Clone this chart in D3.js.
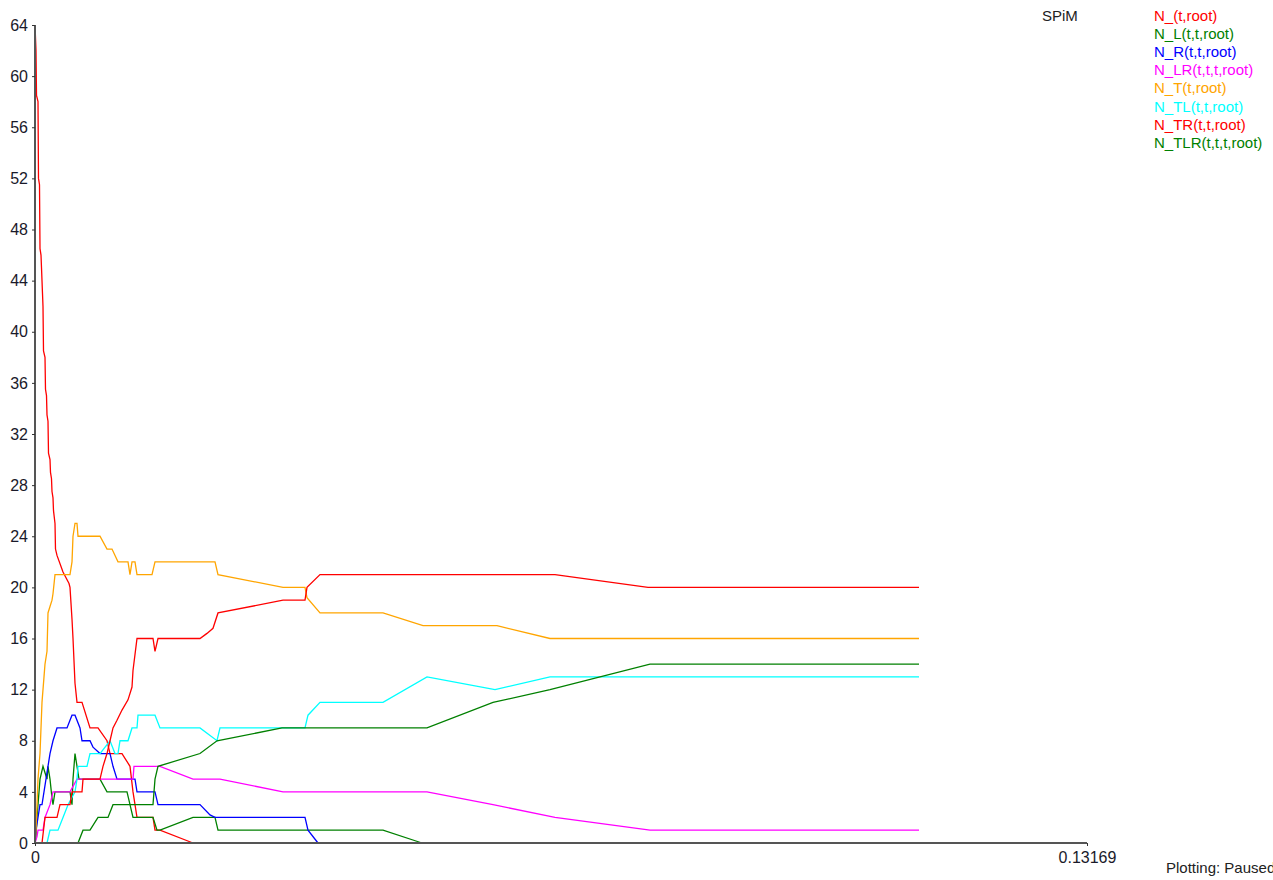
<!DOCTYPE html>
<html><head><meta charset="utf-8">
<script src="https://cdn.jsdelivr.net/npm/d3@7"></script>
<style>
html,body{margin:0;padding:0;background:#fff;overflow:hidden;}
svg{display:block;font-family:"Liberation Sans",Arial,sans-serif;}
</style></head>
<body>
<svg id="chart" width="1273" height="880"></svg>
<script>
// ---- data ----
const xMax = 0.13169;
const yTicks = [0,4,8,12,16,20,24,28,32,36,40,44,48,52,56,60,64];
const xTickLabels = ["0", "0.13169"];
const seriesNames = ["N_(t,root)","N_L(t,t,root)","N_R(t,t,root)","N_LR(t,t,t,root)","N_T(t,root)","N_TL(t,t,root)","N_TR(t,t,root)","N_TLR(t,t,t,root)"];
const seriesColors = ["#ff0000","#008000","#0000ff","#ff00ff","#ffa500","#00ffff","#ff0000","#008000"];

const nRoot = [[0,64],[0.000125,62],[0.000188,58.5],[0.000376,58],[0.000438,52],[0.000563,51.5],[0.000626,46.5],[0.000751,46],[0.000814,45],[0.000939,43],[0.001001,42],[0.001064,38.5],[0.001252,38],[0.001314,35.5],[0.001440,35],[0.001502,33.5],[0.001627,33],[0.001690,30.5],[0.001878,30],[0.001940,29],[0.002065,28.5],[0.002128,27.5],[0.002253,27],[0.002316,26],[0.002504,25],[0.002566,23],[0.002754,22.5],[0.003505,21.2],[0.004256,20.3],[0.004381,20],[0.004632,17.5],[0.004757,16],[0.005007,12.5],[0.005258,11],[0.005884,11],[0.006885,9],[0.007886,9],[0.009013,8],[0.009389,7],[0.010891,7],[0.011892,6],[0.012268,4],[0.012768,2],[0.014771,2],[0.015022,1],[0.015648,1],[0.019779,0]];
const nL = [[0,0],[0.000125,0.5],[0.000250,2],[0.000376,3],[0.000626,5],[0.001001,6],[0.001252,5.5],[0.001502,5],[0.001627,6],[0.001878,5],[0.002128,3.5],[0.002253,3],[0.002504,4],[0.004381,4],[0.004632,3],[0.004757,5],[0.005007,7],[0.005258,6],[0.005508,5],[0.008137,5],[0.009013,4],[0.011517,4],[0.012268,2],[0.014771,2],[0.015272,1],[0.015648,1],[0.019779,2],[0.022533,2],[0.022908,1],[0.043563,1],[0.048445,0]];
const nR = [[0,0],[0.000125,1],[0.000376,2],[0.000626,3],[0.000876,3],[0.001502,5.5],[0.001878,7],[0.002253,8],[0.002754,9],[0.004006,9],[0.004381,9.6],[0.004632,10],[0.005007,10],[0.005633,9],[0.005884,8],[0.006885,8],[0.007260,7.5],[0.008137,7],[0.009389,7],[0.009764,6],[0.010265,5],[0.012518,5],[0.012768,4],[0.015022,4],[0.015397,3],[0.020655,3],[0.021907,2.2],[0.022533,2],[0.033799,2],[0.034174,1],[0.035426,0]];
const nLR = [[0,0],[0.000250,0.5],[0.000376,1],[0.001001,1],[0.001252,2],[0.001878,3],[0.002253,4],[0.004381,4],[0.005258,5],[0.012268,5],[0.012393,6],[0.015648,6],[0.019779,5],[0.023158,5],[0.031045,4],[0.049071,4],[0.057333,3],[0.065094,2],[0.076986,1],[0.110660,1]];
const nT = [[0,0],[0.000125,1],[0.000250,3],[0.000376,5],[0.000626,7],[0.000751,9],[0.000876,11],[0.001127,13],[0.001252,14],[0.001502,15],[0.001627,18],[0.001878,18.5],[0.002128,19],[0.002253,19.5],[0.002504,21],[0.004381,21],[0.004632,22],[0.004757,24],[0.005007,25],[0.005258,25],[0.005383,24],[0.008137,24],[0.009013,23],[0.009639,23],[0.010390,22],[0.011642,22],[0.011892,21],[0.012143,22],[0.012518,22],[0.012768,21],[0.014646,21],[0.015022,22],[0.022533,22],[0.022908,21],[0.031045,20],[0.033799,20],[0.034049,19.2],[0.035677,18],[0.043563,18],[0.048570,17],[0.057834,17],[0.064468,16],[0.110660,16]];
const nTL = [[0,0],[0.001502,0],[0.001878,1],[0.002879,1],[0.003505,2],[0.004131,3],[0.005007,4],[0.005258,5],[0.005383,6],[0.006509,6],[0.006885,7],[0.008137,7],[0.009389,8],[0.010014,7],[0.010390,7],[0.010640,8],[0.011642,8],[0.012143,9],[0.012768,9],[0.012894,10],[0.015022,10],[0.015648,9],[0.020655,9],[0.022783,8],[0.023158,9],[0.033799,9],[0.034174,10],[0.035677,11],[0.043563,11],[0.049071,13],[0.057583,12],[0.064468,13],[0.110660,13]];
const nTR = [[0,0],[0.000876,0],[0.001252,2],[0.002754,2],[0.003130,3],[0.004381,3],[0.004632,4],[0.005884,4],[0.006009,5],[0.008137,5],[0.008512,6],[0.009013,7],[0.009389,8],[0.009764,9],[0.010265,9.6],[0.010891,10.4],[0.011642,11.2],[0.012143,12.2],[0.012268,13.5],[0.012768,16],[0.014771,16],[0.015022,15],[0.015397,16],[0.020655,16],[0.021531,16.4],[0.022283,16.8],[0.022908,18],[0.031045,19],[0.033799,19],[0.034049,20],[0.035677,21],[0.065094,21],[0.076736,20],[0.110660,20]];
const nTLR = [[0,0],[0.005383,0],[0.006009,1],[0.006885,1],[0.007886,2],[0.009138,2],[0.009764,3],[0.014771,3],[0.015022,5],[0.015397,6],[0.020655,7],[0.022783,8],[0.030920,9],[0.049071,9],[0.057333,11],[0.064468,12],[0.076986,14],[0.110660,14]];

const allSeries = [nRoot, nL, nR, nLR, nT, nTL, nTR, nTLR];

// ---- drawing ----
const svg = d3.select("#chart");
const x = d3.scaleLinear().domain([0, xMax]).range([35, 1087]);
const y = d3.scaleLinear().domain([0, 64]).range([843, 25]);

const line = d3.line().x(d => x(d[0])).y(d => y(d[1]));

const gLines = svg.append("g");
allSeries.forEach((s, i) => {
  gLines.append("path")
    .attr("d", line(s))
    .attr("fill", "none")
    .attr("stroke", seriesColors[i])
    .attr("stroke-width", 1.3)
    .attr("stroke-linejoin", "miter");
});

// y axis
const yAxis = d3.axisLeft(y).tickValues(yTicks).tickSize(3).tickPadding(4).tickFormat(d3.format("d"));
const gy = svg.append("g").attr("transform", "translate(35,0)").call(yAxis);
gy.select(".domain").attr("stroke", "#555").attr("stroke-width", 2).attr("d", `M0,${y(64)}V${y(0)}`);
gy.selectAll(".tick line").attr("stroke", "#333");
gy.selectAll(".tick text").attr("font-size", 16).attr("fill", "#1a1a2a")
  .attr("font-family", "Liberation Sans, Arial, sans-serif");

// x axis
const xAxis = d3.axisBottom(x).tickValues([0, xMax]).tickSize(3).tickPadding(6)
  .tickFormat((d, i) => xTickLabels[i]);
const gx = svg.append("g").attr("transform", "translate(0,843)").call(xAxis);
gx.select(".domain").attr("stroke", "#555").attr("stroke-width", 2).attr("d", `M${x(0)},0H${x(xMax)}`);
gx.selectAll(".tick line").attr("stroke", "#333");
gx.selectAll(".tick text").attr("font-size", 16).attr("fill", "#1a1a2a")
  .attr("font-family", "Liberation Sans, Arial, sans-serif");

// legend
svg.append("text").attr("x", 1042).attr("y", 21).attr("font-size", 15).attr("fill", "#222").text("SPiM");
const leg = svg.append("g");
seriesNames.forEach((n, i) => {
  leg.append("text").attr("x", 1154).attr("y", 21 + i * 18.1)
    .attr("font-size", 15).attr("fill", seriesColors[i]).text(n);
});

svg.append("text").attr("x", 1166).attr("y", 873).attr("font-size", 15).attr("fill", "#222").text("Plotting: Paused");
</script>
</body></html>
